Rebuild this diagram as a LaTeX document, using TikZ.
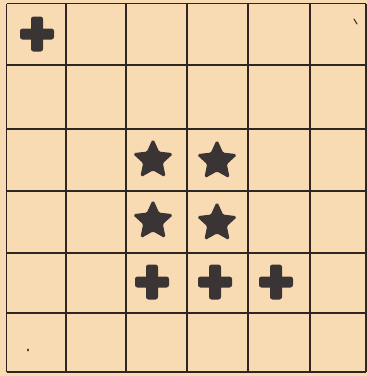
\documentclass[tikz,border=0pt]{standalone}
\usetikzlibrary{shapes.geometric}
\definecolor{paper}{RGB}{248,219,178}
\definecolor{ink}{RGB}{45,38,34}
\definecolor{sym}{RGB}{58,52,52}
\tikzset{
  gridline/.style={draw=ink, line width=1.6pt},
  starsym/.style={star, star points=5, star point ratio=2.1, fill=sym, draw=sym, line width=1.5pt, rounded corners=1.5pt, minimum size=40pt, inner sep=0pt},
}
\newcommand{\plussym}[2]{%
  \fill[sym, rounded corners=2.5pt] (#1-17,#2-5.5) rectangle (#1+17,#2+5.5);
  \fill[sym, rounded corners=2.5pt] (#1-6,#2-17.5) rectangle (#1+6,#2+17.5);
}
\begin{document}
\begin{tikzpicture}[x=1pt,y=-1pt]
\fill[paper] (0,0) rectangle (367,376);
\useasboundingbox (0,0) rectangle (367,376);
% grid
\foreach \x in {6.5,66,126,187,248,310,366} \draw[gridline] (\x,3.5) -- (\x,372);
\foreach \y in {3.5,65,129,191,253,313,372} \draw[gridline] (6.5,\y) -- (366,\y);
% pluses
\plussym{37}{34}
\plussym{152}{282}
\plussym{215}{282}
\plussym{276}{282}
% stars
\node[starsym] (s1) at (153,160) {};
\node[starsym] (s2) at (217,161) {};
\node[starsym] (s3) at (153,221) {};
\node[starsym] (s4) at (217,223) {};
% small print marks
\draw[ink, line width=1pt, line cap=round] (354,19) -- (357,24);
\fill[ink] (28,350) ellipse (1pt and 1.6pt);
\end{tikzpicture}
\end{document}
